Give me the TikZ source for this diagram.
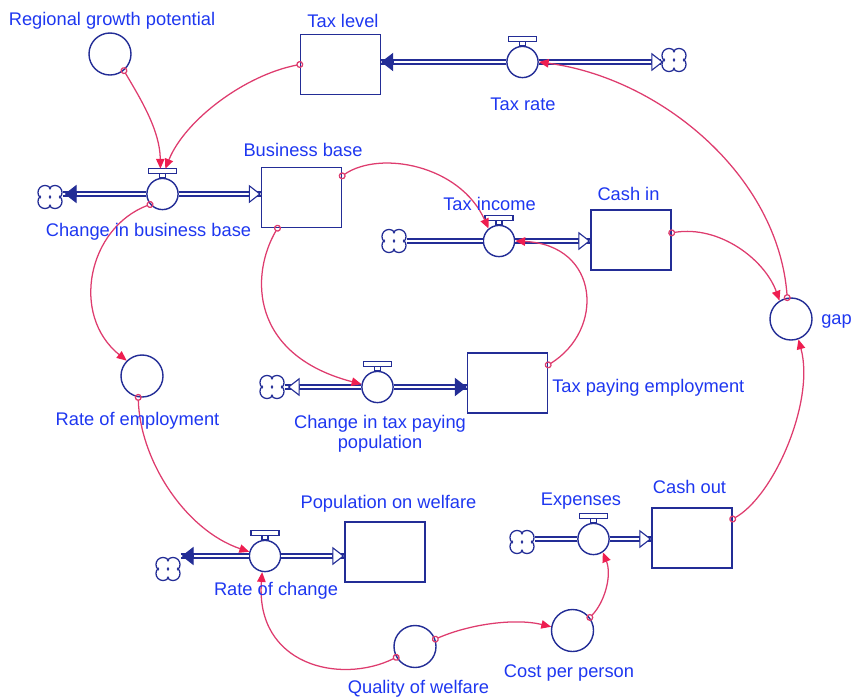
\documentclass[tikz,border=0pt]{standalone}
\usepackage{fontspec}
\setmainfont{Liberation Sans}
\usepackage{xcolor}
\usepackage{tikz}
\usetikzlibrary{calc, arrows.meta, positioning}

\definecolor{flowblue}{RGB}{35,45,150}
\definecolor{labelblue}{RGB}{30,55,240}
\definecolor{linkred}{RGB}{222,60,110}
\definecolor{tipred}{RGB}{238,30,80}

\begin{document}
\begin{tikzpicture}[x=0.025cm, y=-0.025cm,
    font=\fontsize{13}{14.2}\selectfont,
    stock/.style={draw=flowblue, line width=1pt, fill=white, minimum width=2cm, minimum height=1.5cm, inner sep=0pt},
    valve/.style={circle, draw=flowblue, line width=1pt, fill=white, minimum size=0.78cm, inner sep=0pt},
    aux/.style={circle, draw=flowblue, line width=1pt, fill=white, minimum size=1.05cm, inner sep=0pt},
    sinkcloud/.style={circle, minimum size=0.62cm, inner sep=0pt},
    lbl/.style={text=labelblue, inner sep=0pt, anchor=base},
    pipe/.style={draw=flowblue, line width=0.8pt, double=white, double distance=2pt},
    openhead/.style={draw=flowblue, line width=0.8pt, -{Triangle[length=8.5pt, width=13pt, fill=white]}},
    fillhead/.style={draw=flowblue, line width=0.8pt, -{Triangle[length=8.5pt, width=13pt]}},
    link/.style={draw=linkred, line width=0.9pt, shorten <=-2.5pt,
        {Circle[open, length=5pt, width=5pt]}-{Triangle[length=7pt, width=6pt, color=tipred]}},
]
    \useasboundingbox (0,0) rectangle (854,699);

    % =================================================================
    % 1. STOCKS, VALVES, AUXILIARIES AND CLOUDS
    % =================================================================
    % Stocks (levels)
    \node[stock] (TL)  at (340.5,64.5) {};
    \node[stock] (BB)  at (301.5,197.5) {};
    \node[stock] (CI)  at (631,240) {};
    \node[stock] (TPE) at (507.5,383) {};
    \node[stock] (PoW) at (385,552) {};
    \node[stock] (CO)  at (692,538) {};

    % Valves on the flows
    \node[valve] (CBB) at (162.5,194) {};
    \node[valve] (TR)  at (522.5,62) {};
    \node[valve] (TI)  at (499,241) {};
    \node[valve] (CTP) at (377.5,387) {};
    \node[valve] (RC)  at (265,556) {};
    \node[valve] (EX)  at (593.5,539) {};

    % Auxiliary variables
    \node[aux] (RGP) at (110,54) {};
    \node[aux] (RoE) at (142,376) {};
    \node[aux] (Gap) at (791,319) {};
    \node[aux] (QoW) at (415,646.5) {};
    \node[aux] (CPP) at (572.5,630.5) {};

    % Sources and sinks
    \node[sinkcloud] (CloudBusiness) at (50,197) {};
    \node[sinkcloud] (CloudRate)     at (674,60) {};
    \node[sinkcloud] (CloudIncome)   at (394,241) {};
    \node[sinkcloud] (CloudTaxPop)   at (272,387) {};
    \node[sinkcloud] (CloudWelfare)  at (168,569) {};
    \node[sinkcloud] (CloudExpense)  at (522,542) {};

    % Cloud symbols: four lobes, inner arcs wiped out
    \foreach \c in {CloudBusiness, CloudRate, CloudIncome, CloudTaxPop, CloudWelfare, CloudExpense} {
        \draw[draw=flowblue, line width=0.9pt]
            (\c.center) ++(-5,-4.5) circle[radius=5pt]
            (\c.center) ++(5,-4.5) circle[radius=5pt]
            (\c.center) ++(-5,4.5) circle[radius=5pt]
            (\c.center) ++(5,4.5) circle[radius=5pt];
        \fill[white]
            (\c.center) ++(-5,-4.5) circle[radius=4pt]
            (\c.center) ++(5,-4.5) circle[radius=4pt]
            (\c.center) ++(-5,4.5) circle[radius=4pt]
            (\c.center) ++(5,4.5) circle[radius=4pt];
    }

    % Valve handles
    \foreach \v in {CBB, TR, TI, CTP, RC, EX}
        \draw[draw=flowblue, line width=0.9pt, fill=white]
            (\v.north) ++(-3,0) rectangle ++(6,-4) ++(-17,0) rectangle ++(28,-5);

    % =================================================================
    % 2. FLOW PIPES
    % =================================================================
    % Change in business base
    \draw[pipe] (CloudBusiness.east |- CBB.west) -- (CBB.west);
    \draw[pipe] (CBB.east) -- (BB.west |- CBB.east);
    \draw[fillhead] (CloudBusiness.east |- CBB.west) ++(14,0) -- +(-12,0);
    \draw[openhead] (BB.west |- CBB.east) ++(-12,0) -- +(12,0);

    % Tax rate
    \draw[pipe] (TL.east |- TR.west) -- (TR.west);
    \draw[pipe] (TR.east) -- (CloudRate.west |- TR.east);
    \draw[fillhead] (TL.east |- TR.west) ++(12,0) -- +(-12,0);
    \draw[openhead] (CloudRate.west |- TR.east) ++(-10,0) -- +(12,0);

    % Tax income
    \draw[pipe] (CloudIncome.east |- TI.west) -- (TI.west);
    \draw[pipe] (TI.east) -- (CI.west |- TI.east);
    \draw[openhead] (CI.west |- TI.east) ++(-12,0) -- +(12,0);

    % Change in tax paying population
    \draw[pipe] (CloudTaxPop.east |- CTP.west) -- (CTP.west);
    \draw[pipe] (CTP.east) -- (TPE.west |- CTP.east);
    \draw[openhead] (CloudTaxPop.east |- CTP.west) ++(15,0) -- +(-12,0);
    \draw[fillhead] (TPE.west |- CTP.east) ++(-12,0) -- +(12,0);

    % Rate of change
    \draw[pipe] (CloudWelfare.east |- RC.west) -- (RC.west);
    \draw[pipe] (RC.east) -- (PoW.west |- RC.east);
    \draw[fillhead] (CloudWelfare.east |- RC.west) ++(13,0) -- +(-12,0);
    \draw[openhead] (PoW.west |- RC.east) ++(-12,0) -- +(12,0);

    % Expenses
    \draw[pipe] (CloudExpense.east |- EX.west) -- (EX.west);
    \draw[pipe] (EX.east) -- (CO.west |- EX.east);
    \draw[openhead] (CO.west |- EX.east) ++(-12,0) -- +(12,0);

    % =================================================================
    % 3. INFORMATION LINKS
    % =================================================================
    \coordinate (CBBKnob) at ($(CBB.north)+(0,-9)$);

    \draw[link] (RGP.-50) .. controls (140,98) and (160,130) .. ([xshift=-1.5pt]CBBKnob);
    \draw[link] (TL.west) .. controls (245,75) and (185,120) .. ([xshift=2pt]CBBKnob);
    \draw[link] (CBB.-140) .. controls (88,228) and (70,315) .. (RoE.135);
    \draw[link] (BB.-128) .. controls (250,275) and (250,355) .. (CTP.170);
    \draw[link] (BB.28) .. controls (380,150) and (460,165) .. (TI.130);
    \draw[link] (TPE.24) .. controls (605,330) and (600,245) .. (TI.east);
    \draw[link] (CI.10) .. controls (720,225) and (765,260) .. (Gap.122);
    \draw[link] (Gap.100) .. controls (778,175) and (660,78) .. (TR.east);
    \draw[link] (CO.25) .. controls (775,495) and (815,400) .. (Gap.-70);
    \draw[link] (RoE.-100) .. controls (140,460) and (185,530) .. (RC.165);
    \draw[link] (QoW.-150) .. controls (340,685) and (255,665) .. (RC.-100);
    \draw[link] (QoW.20) .. controls (470,624) and (515,618) .. (CPP.170);
    \draw[link] (CPP.37) .. controls (605,602) and (612,575) .. (EX.-55);

    % =================================================================
    % 4. LABELS
    % =================================================================
    \node[lbl] (RGPText) at (112,25) {Regional growth potential};
    \node[lbl] (TLText)  at (343,27) {Tax level};
    \node[lbl] (TRText)  at (523,110) {Tax rate};
    \node[lbl] (BBText)  at (303,156) {Business base};
    \node[lbl] (CBBText) at (148.5,236) {Change in business base};
    \node[lbl] (TIText)  at (489.5,210) {Tax income};
    \node[lbl] (CIText)  at (628.5,200) {Cash in};
    \node[lbl, anchor=base west] (TPEText) at (552,392) {Tax paying employment};
    \node[lbl, anchor=center, align=center] (CTPText) at (380,433.5) {Change in tax paying\\population};
    \node[lbl] (RoEText) at (137.5,425) {Rate of employment};
    \node[lbl] (PoWText) at (388.5,508) {Population on welfare};
    \node[lbl] (RCText)  at (276,595) {Rate of change};
    \node[lbl] (EXText)  at (581,505) {Expenses};
    \node[lbl] (COText)  at (689.5,493) {Cash out};
    \node[lbl] (CPPText) at (569,677) {Cost per person};
    \node[lbl] (QoWText) at (418.5,693) {Quality of welfare};
    \node[lbl, anchor=base west] (GapText) at (821,324) {gap};

\end{tikzpicture}
\end{document}
